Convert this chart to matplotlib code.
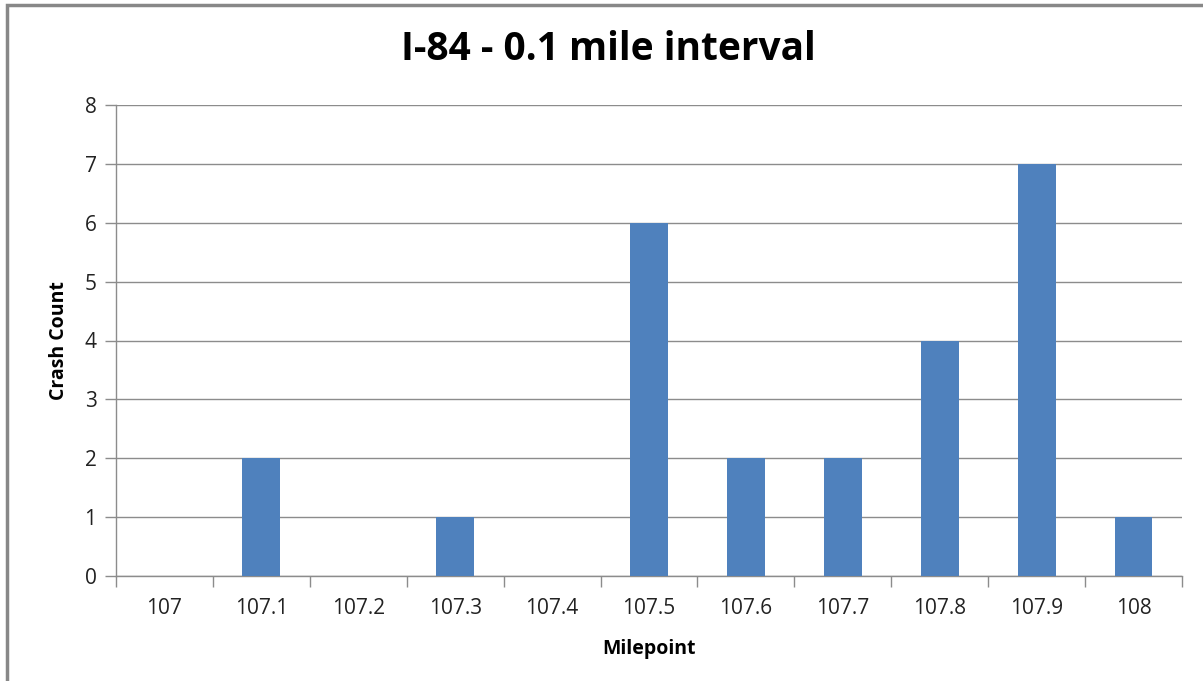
import matplotlib.pyplot as plt
from matplotlib.patches import Rectangle
import numpy as np

# crash counts per 0.1 mile segment
mileposts = ["107", "107.1", "107.2", "107.3", "107.4", "107.5",
             "107.6", "107.7", "107.8", "107.9", "108"]
crashes = [0, 2, 0, 1, 0, 6, 2, 2, 4, 7, 1]

plt.rcParams['font.family'] = ['Open Sans', 'DejaVu Sans']

fig = plt.figure(figsize=(12.03, 6.81), dpi=100)
ax = fig.add_axes([116 / 1203, 1 - 576 / 681, (1182 - 116) / 1203, (576 - 105) / 681])

x = np.arange(len(mileposts))
ax.bar(x, crashes, width=0.39, color='#4F81BD', zorder=3)

ax.set_xlim(-0.5, len(mileposts) - 0.5)
ax.set_ylim(0, 8)
ax.set_yticks(range(0, 9))
ax.yaxis.grid(True, color='#8C8C8C', linewidth=1.0, zorder=0)

# category labels centred, tick marks at category edges
ax.set_xticks(x)
ax.set_xticklabels(mileposts, fontsize=15, color='#222222')
ax.set_xticks(np.arange(-0.5, len(mileposts)), minor=True)
ax.tick_params(axis='x', which='major', length=0, pad=16)
ax.tick_params(axis='x', which='minor', length=8, color='#8C8C8C', width=1)
ax.tick_params(axis='y', length=8, color='#8C8C8C', width=1, labelsize=15,
               labelcolor='#222222', pad=6)

for side in ['top', 'right']:
    ax.spines[side].set_visible(False)
for side in ['left', 'bottom']:
    ax.spines[side].set_color('#8C8C8C')
    ax.spines[side].set_linewidth(1.0)

ax.set_xlabel("Milepoint", fontsize=14, fontweight='bold', labelpad=14)
ax.set_ylabel("Crash Count", fontsize=14, fontweight='bold', labelpad=11)
fig.text(608 / 1203, 1 - 50 / 681, "I-84 - 0.1 mile interval", ha='center',
         va='center', fontsize=28, fontweight='bold')

# chart frame
fig.patches.append(Rectangle((7 / 1203, -0.01), 1.02, 1 - 5 / 681 + 0.01,
                             transform=fig.transFigure, fill=False,
                             edgecolor='#888888', linewidth=2.5))

fig.savefig("out.png", dpi=100)
